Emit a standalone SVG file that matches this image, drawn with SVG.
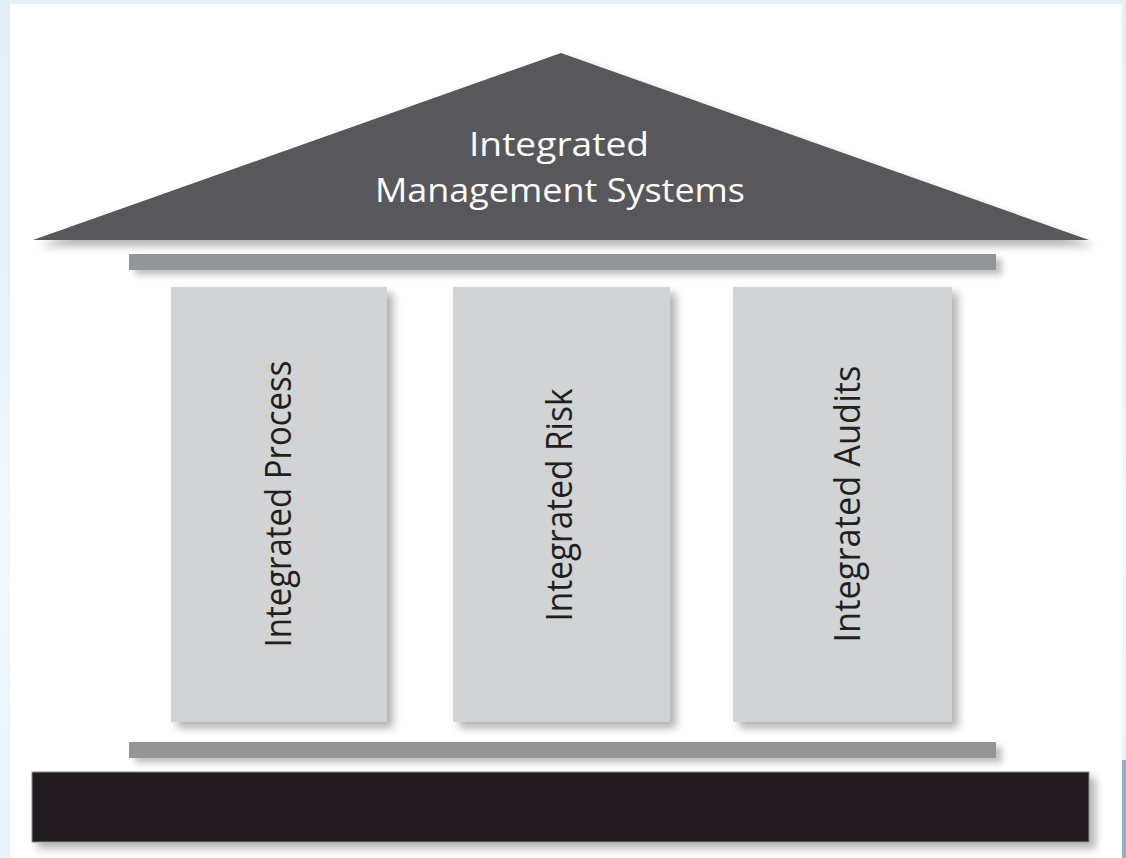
<svg xmlns="http://www.w3.org/2000/svg" width="1126" height="858" viewBox="0 0 1126 858">
  <defs>
    <filter id="sh" x="-10%" y="-20%" width="130%" height="160%">
      <feDropShadow dx="6" dy="6" stdDeviation="4" flood-color="#000" flood-opacity="0.3"/>
    </filter>
    <filter id="shs" x="-10%" y="-50%" width="130%" height="250%">
      <feDropShadow dx="6" dy="5" stdDeviation="3" flood-color="#000" flood-opacity="0.25"/>
    </filter>
    <linearGradient id="bgl" x1="0" y1="0" x2="0" y2="1">
      <stop offset="0" stop-color="#e4f0f8"/>
      <stop offset="0.4" stop-color="#e8f2f9"/>
      <stop offset="0.6" stop-color="#f4f9fd"/>
      <stop offset="1" stop-color="#e6f3fb"/>
    </linearGradient>
    <style>
      .roof{fill:#59595b}
      .bar{fill:#939598}
      .col{fill:#d1d3d4}
      .base{fill:#231f20;stroke:#8a8a8a;stroke-width:1}
      .title{font-family:"Open Sans","Noto Sans",sans-serif;font-size:33px;fill:#ffffff;text-anchor:middle}
      .lbl{font-family:"Open Sans","Noto Sans",sans-serif;font-size:36px;fill:#231f20;text-anchor:middle}
    </style>
  </defs>
  <rect x="0" y="0" width="1126" height="858" fill="url(#bgl)"/>
  <rect x="1122" y="760" width="4" height="98" fill="#8fb0cc"/>
  <rect x="10" y="4" width="1112" height="854" fill="#ffffff"/>

  <g id="roof">
    <polygon class="roof" points="561,53 1089,240 33,240" filter="url(#sh)"/>
    <text class="title" x="559" y="156" textLength="180" lengthAdjust="spacingAndGlyphs">Integrated</text>
    <text class="title" x="560" y="202" textLength="370" lengthAdjust="spacingAndGlyphs">Management Systems</text>
  </g>
  <g id="top-beam">
    <rect class="bar" x="129" y="254" width="867" height="16" filter="url(#shs)"/>
  </g>
  <g id="pillar-process">
    <rect class="col" x="171" y="287" width="216" height="435" filter="url(#sh)"/>
    <text class="lbl" transform="translate(291,504) rotate(-90)" textLength="287" lengthAdjust="spacingAndGlyphs">Integrated Process</text>
  </g>
  <g id="pillar-risk">
    <rect class="col" x="453" y="287" width="217" height="435" filter="url(#sh)"/>
    <text class="lbl" transform="translate(572,505) rotate(-90)" textLength="233" lengthAdjust="spacingAndGlyphs">Integrated Risk</text>
  </g>
  <g id="pillar-audits">
    <rect class="col" x="733" y="287" width="219" height="435" filter="url(#sh)"/>
    <text class="lbl" transform="translate(860,504) rotate(-90)" textLength="277" lengthAdjust="spacingAndGlyphs">Integrated Audits</text>
  </g>
  <g id="bottom-beam">
    <rect class="bar" x="129" y="742" width="867" height="16" filter="url(#shs)"/>
  </g>
  <g id="foundation">
    <rect class="base" x="32" y="772" width="1057" height="70" filter="url(#sh)"/>
  </g>
  <g id="connectors"/>
</svg>
